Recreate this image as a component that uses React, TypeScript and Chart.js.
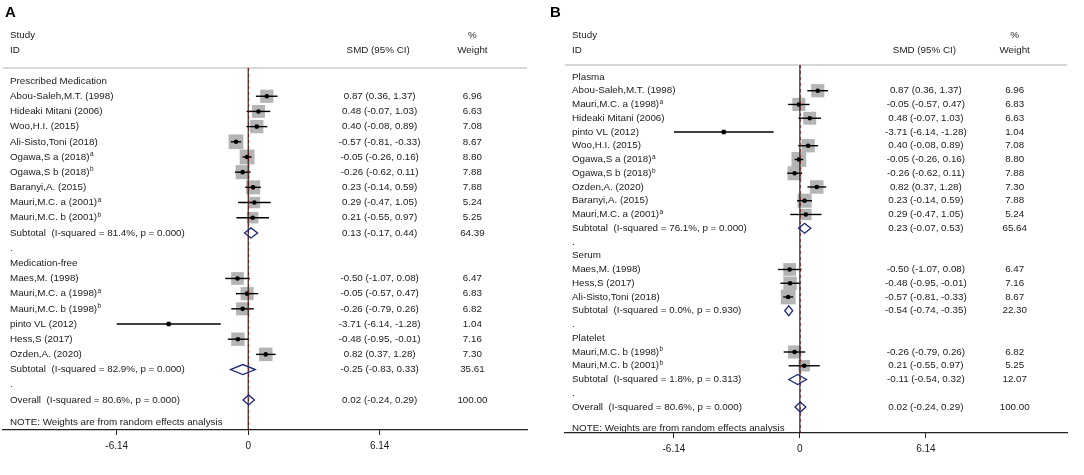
import React, { useEffect, useRef } from "react";
import { Chart, registerables } from "chart.js";

Chart.register(...registerables);

// ---------------- Data: panel A ----------------
const A_LABELS = [
  "Prescribed Medication",
  "Abou-Saleh,M.T. (1998)",
  "Hideaki Mitani (2006)",
  "Woo,H.I. (2015)",
  "Ali-Sisto,Toni (2018)",
  "Ogawa,S a (2018)ᵃ",
  "Ogawa,S b (2018)ᵇ",
  "Baranyi,A. (2015)",
  "Mauri,M.C. a (2001)ᵃ",
  "Mauri,M.C. b (2001)ᵇ",
  "Subtotal  (I-squared = 81.4%, p = 0.000)",
  ".",
  "Medication-free",
  "Maes,M. (1998)",
  "Mauri,M.C. a (1998)ᵃ",
  "Mauri,M.C. b (1998)ᵇ",
  "pinto VL (2012)",
  "Hess,S (2017)",
  "Ozden,A. (2020)",
  "Subtotal  (I-squared = 82.9%, p = 0.000)",
  ".",
  "Overall  (I-squared = 80.6%, p = 0.000)",
];
// h = heading, s = study, t = subtotal, d = spacer dot, o = overall
const A_KIND = ["h", "s", "s", "s", "s", "s", "s", "s", "s", "s", "t", "d", "h", "s", "s", "s", "s", "s", "s", "t", "d", "o"];
const A_SMD = [null, 0.87, 0.48, 0.4, -0.57, -0.05, -0.26, 0.23, 0.29, 0.21, 0.13, null, null, -0.5, -0.05, -0.26, -3.71, -0.48, 0.82, -0.25, null, 0.02];
const A_LOW = [null, 0.36, -0.07, -0.08, -0.81, -0.26, -0.62, -0.14, -0.47, -0.55, -0.17, null, null, -1.07, -0.57, -0.79, -6.14, -0.95, 0.37, -0.83, null, -0.24];
const A_HIGH = [null, 1.37, 1.03, 0.89, -0.33, 0.16, 0.11, 0.59, 1.05, 0.97, 0.44, null, null, 0.08, 0.47, 0.26, -1.28, -0.01, 1.28, 0.33, null, 0.29];
const A_WEIGHT = [null, 6.96, 6.63, 7.08, 8.67, 8.8, 7.88, 7.88, 5.24, 5.25, 64.39, null, null, 6.47, 6.83, 6.82, 1.04, 7.16, 7.3, 35.61, null, 100.0];

// ---------------- Data: panel B ----------------
const B_LABELS = [
  "Plasma",
  "Abou-Saleh,M.T. (1998)",
  "Mauri,M.C. a (1998)ᵃ",
  "Hideaki Mitani (2006)",
  "pinto VL (2012)",
  "Woo,H.I. (2015)",
  "Ogawa,S a (2018)ᵃ",
  "Ogawa,S b (2018)ᵇ",
  "Ozden,A. (2020)",
  "Baranyi,A. (2015)",
  "Mauri,M.C. a (2001)ᵃ",
  "Subtotal  (I-squared = 76.1%, p = 0.000)",
  ".",
  "Serum",
  "Maes,M. (1998)",
  "Hess,S (2017)",
  "Ali-Sisto,Toni (2018)",
  "Subtotal  (I-squared = 0.0%, p = 0.930)",
  ".",
  "Platelet",
  "Mauri,M.C. b (1998)ᵇ",
  "Mauri,M.C. b (2001)ᵇ",
  "Subtotal  (I-squared = 1.8%, p = 0.313)",
  ".",
  "Overall  (I-squared = 80.6%, p = 0.000)",
];
const B_KIND = ["h", "s", "s", "s", "s", "s", "s", "s", "s", "s", "s", "t", "d", "h", "s", "s", "s", "t", "d", "h", "s", "s", "t", "d", "o"];
const B_SMD = [null, 0.87, -0.05, 0.48, -3.71, 0.4, -0.05, -0.26, 0.82, 0.23, 0.29, 0.23, null, null, -0.5, -0.48, -0.57, -0.54, null, null, -0.26, 0.21, -0.11, null, 0.02];
const B_LOW = [null, 0.36, -0.57, -0.07, -6.14, -0.08, -0.26, -0.62, 0.37, -0.14, -0.47, -0.07, null, null, -1.07, -0.95, -0.81, -0.74, null, null, -0.79, -0.55, -0.54, null, -0.24];
const B_HIGH = [null, 1.37, 0.47, 1.03, -1.28, 0.89, 0.16, 0.11, 1.28, 0.59, 1.05, 0.53, null, null, 0.08, -0.01, -0.33, -0.35, null, null, 0.26, 0.97, 0.32, null, 0.29];
const B_WEIGHT = [null, 6.96, 6.83, 6.63, 1.04, 7.08, 8.8, 7.88, 7.3, 7.88, 5.24, 65.64, null, null, 6.47, 7.16, 8.67, 22.3, null, null, 6.82, 5.25, 12.07, null, 100.0];

// ---------------- Axis ----------------
const X_TICKS = [-6.14, 0, 6.14];
const X_TICK_LABELS = ["-6.14", "0", "6.14"];
const X_MIN = -11.45;
const X_MAX = 13.02;
const CI_COLUMN_X = 6.14;
const WEIGHT_COLUMN_X = 10.47;
const NULL_VALUE = 0;

const HEAD_STUDY = "Study";
const HEAD_ID = "ID";
const HEAD_SMD = "SMD (95% CI)";
const HEAD_PCT = "%";
const HEAD_WEIGHT = "Weight";
const NOTE_TEXT = "NOTE: Weights are from random effects analysis";

const FONT = '"Liberation Sans", Arial, Helvetica, sans-serif';
const TXT = "#1a1a1a";
const BOX_K = 5.0;
const SUPERS: Record<string, string> = { "ᵃ": "a", "ᵇ": "b" };

type PanelCfg = {
  letter: string;
  labels: string[];
  kind: string[];
  smd: (number | null)[];
  low: (number | null)[];
  high: (number | null)[];
  weight: (number | null)[];
  yMin: number;
  yMax: number;
  padLeft: number;
  padRight: number;
  padTop: number;
  axisH: number;
  noteRow: number;
  letterX: number;
  width: number;
};

const PANEL_A: PanelCfg = {
  letter: "A",
  labels: A_LABELS,
  kind: A_KIND,
  smd: A_SMD,
  low: A_LOW,
  high: A_HIGH,
  weight: A_WEIGHT,
  yMin: -0.86,
  yMax: 22.98,
  padLeft: 3,
  padRight: 13,
  padTop: 68,
  axisH: 45,
  noteRow: 22.5,
  letterX: 5,
  width: 540,
};

const PANEL_B: PanelCfg = {
  letter: "B",
  labels: B_LABELS,
  kind: B_KIND,
  smd: B_SMD,
  low: B_LOW,
  high: B_HIGH,
  weight: B_WEIGHT,
  yMin: -0.87,
  yMax: 25.89,
  padLeft: 25,
  padRight: 17,
  padTop: 65,
  axisH: 42,
  noteRow: 25.53,
  letterX: 10,
  width: 544,
};

function drawLabel(ctx: CanvasRenderingContext2D, text: string, x: number, y: number) {
  let cx = x;
  let buf = "";
  const flush = () => {
    if (buf) {
      ctx.font = `9.8px ${FONT}`;
      ctx.fillText(buf, cx, y);
      cx += ctx.measureText(buf).width;
      buf = "";
    }
  };
  for (const ch of text) {
    if (SUPERS[ch]) {
      flush();
      ctx.font = `6.5px ${FONT}`;
      ctx.fillText(SUPERS[ch], cx + 0.5, y - 2.5);
      cx += ctx.measureText(SUPERS[ch]).width + 0.5;
    } else {
      buf += ch;
    }
  }
  flush();
}

const fmt = (v: number) => v.toFixed(2);

function Panel({ cfg, left }: { cfg: PanelCfg; left: number }) {
  const ref = useRef<HTMLCanvasElement>(null);

  useEffect(() => {
    const canvas = ref.current!;
    const rows = cfg.labels.map((_, i) => i);
    const studies = rows.filter((i) => cfg.kind[i] === "s");
    const pooled = rows.filter((i) => cfg.kind[i] === "t" || cfg.kind[i] === "o");
    const overallRow = rows.find((i) => cfg.kind[i] === "o")!;
    const overallEst = cfg.smd[overallRow] as number;

    const boxData = studies.map((i) => ({ x: cfg.smd[i] as number, y: i, w: cfg.weight[i] as number }));
    const dotData = studies.map((i) => ({ x: cfg.smd[i] as number, y: i }));
    const ciSets = studies.map((i) => ({
      type: "line" as const,
      data: [
        { x: cfg.low[i] as number, y: i },
        { x: cfg.high[i] as number, y: i },
      ],
      borderColor: "#000",
      borderWidth: 1.4,
      pointRadius: 0,
      showLine: true,
      fill: false,
      order: 2,
    }));

    const forestPlugin = {
      id: "forest",
      afterDatasetsDraw(chart: any) {
        const { ctx, chartArea } = chart;
        const xs = chart.scales.x;
        const ys = chart.scales.y;
        ctx.save();

        // header rule
        ctx.strokeStyle = "#cacaca";
        ctx.lineWidth = 1.5;
        ctx.beginPath();
        ctx.moveTo(chartArea.left, chartArea.top);
        ctx.lineTo(chartArea.right, chartArea.top);
        ctx.stroke();

        // null line
        const x0 = xs.getPixelForValue(NULL_VALUE);
        ctx.strokeStyle = "#000";
        ctx.lineWidth = 1;
        ctx.beginPath();
        ctx.moveTo(x0, chartArea.top);
        ctx.lineTo(x0, chartArea.bottom);
        ctx.stroke();

        // overall dashed line
        const xo = xs.getPixelForValue(overallEst);
        ctx.strokeStyle = "#7a1515";
        ctx.lineWidth = 0.9;
        ctx.setLineDash([3, 3]);
        ctx.beginPath();
        ctx.moveTo(xo, chartArea.top);
        ctx.lineTo(xo, chartArea.bottom);
        ctx.stroke();
        ctx.setLineDash([]);

        // diamonds
        ctx.strokeStyle = "#1c2878";
        ctx.lineWidth = 1.3;
        pooled.forEach((i) => {
          const yc = ys.getPixelForValue(i);
          const xl = xs.getPixelForValue(cfg.low[i] as number);
          const xh = xs.getPixelForValue(cfg.high[i] as number);
          const xe = xs.getPixelForValue(cfg.smd[i] as number);
          ctx.beginPath();
          ctx.moveTo(xl, yc);
          ctx.lineTo(xe, yc - 5);
          ctx.lineTo(xh, yc);
          ctx.lineTo(xe, yc + 5);
          ctx.closePath();
          ctx.stroke();
        });

        // texts
        ctx.fillStyle = TXT;
        ctx.textBaseline = "middle";
        const labelX = chartArea.left + 7;
        const ciX = xs.getPixelForValue(CI_COLUMN_X);
        const wX = xs.getPixelForValue(WEIGHT_COLUMN_X);
        rows.forEach((i) => {
          const yc = ys.getPixelForValue(i);
          ctx.textAlign = "left";
          drawLabel(ctx, cfg.labels[i], labelX, yc);
          if (cfg.smd[i] !== null) {
            ctx.font = `9.8px ${FONT}`;
            ctx.textAlign = "center";
            ctx.fillText(
              `${fmt(cfg.smd[i] as number)} (${fmt(cfg.low[i] as number)}, ${fmt(cfg.high[i] as number)})`,
              ciX,
              yc
            );
            ctx.fillText(fmt(cfg.weight[i] as number), wX, yc);
          }
        });

        // note
        ctx.textAlign = "left";
        ctx.font = `9.8px ${FONT}`;
        ctx.fillText(NOTE_TEXT, labelX, ys.getPixelForValue(cfg.noteRow));

        // headers
        ctx.fillText(HEAD_STUDY, labelX, 35);
        ctx.fillText(HEAD_ID, labelX, 50);
        ctx.textAlign = "center";
        ctx.fillText(HEAD_SMD, xs.getPixelForValue(6.07), 50);
        ctx.fillText(HEAD_PCT, wX, 35);
        ctx.fillText(HEAD_WEIGHT, wX, 50);

        // panel letter
        ctx.textAlign = "left";
        ctx.font = `bold 15px ${FONT}`;
        ctx.fillStyle = "#000";
        ctx.fillText(cfg.letter, cfg.letterX, 13);

        ctx.restore();
      },
    };

    const chart = new Chart(canvas, {
      type: "scatter",
      data: {
        datasets: [
          {
            data: boxData,
            pointStyle: "rect",
            backgroundColor: "#b4b4b4",
            borderWidth: 0,
            pointRadius: (c: any) => (c.raw ? (BOX_K * Math.sqrt(c.raw.w)) / Math.SQRT2 : 0),
            order: 3,
          } as any,
          ...(ciSets as any[]),
          {
            data: dotData,
            pointStyle: "circle",
            pointRadius: 2.3,
            backgroundColor: "#000",
            borderWidth: 0,
            order: 1,
          },
        ],
      },
      options: {
        animation: false,
        responsive: false,
        events: [],
        layout: {
          autoPadding: false,
          padding: { left: cfg.padLeft, right: cfg.padRight, top: cfg.padTop, bottom: 0 },
        },
        plugins: { legend: { display: false }, tooltip: { enabled: false } },
        scales: {
          x: {
            type: "linear",
            min: X_MIN,
            max: X_MAX,
            afterBuildTicks: (s: any) => {
              s.ticks = X_TICKS.map((v) => ({ value: v }));
            },
            afterFit: (s: any) => {
              s.height = cfg.axisH;
              s.paddingLeft = 0;
              s.paddingRight = 0;
            },
            ticks: {
              autoSkip: false,
              maxRotation: 0,
              padding: 5,
              color: TXT,
              font: { family: FONT, size: 10 },
              callback: (v: any) => {
                const k = X_TICKS.indexOf(v);
                return k >= 0 ? X_TICK_LABELS[k] : "";
              },
            },
            grid: { drawOnChartArea: false, drawTicks: true, tickLength: 5, color: "#222", lineWidth: 1 },
            border: { display: true, color: "#222", width: 1.2 },
          },
          y: {
            type: "linear",
            reverse: true,
            min: cfg.yMin,
            max: cfg.yMax,
            display: false,
          },
        },
      },
      plugins: [forestPlugin],
    });
    return () => chart.destroy();
  }, [cfg]);

  return (
    <canvas
      ref={ref}
      width={cfg.width}
      height={475}
      style={{ position: "absolute", left, top: 0, width: cfg.width, height: 475 }}
    />
  );
}

export default function App() {
  useEffect(() => {
    document.body.style.margin = "0";
    document.body.style.background = "#fff";
  }, []);
  return (
    <div style={{ position: "relative", width: 1084, height: 475, background: "#fff" }}>
      <Panel cfg={PANEL_A} left={0} />
      <Panel cfg={PANEL_B} left={540} />
    </div>
  );
}
